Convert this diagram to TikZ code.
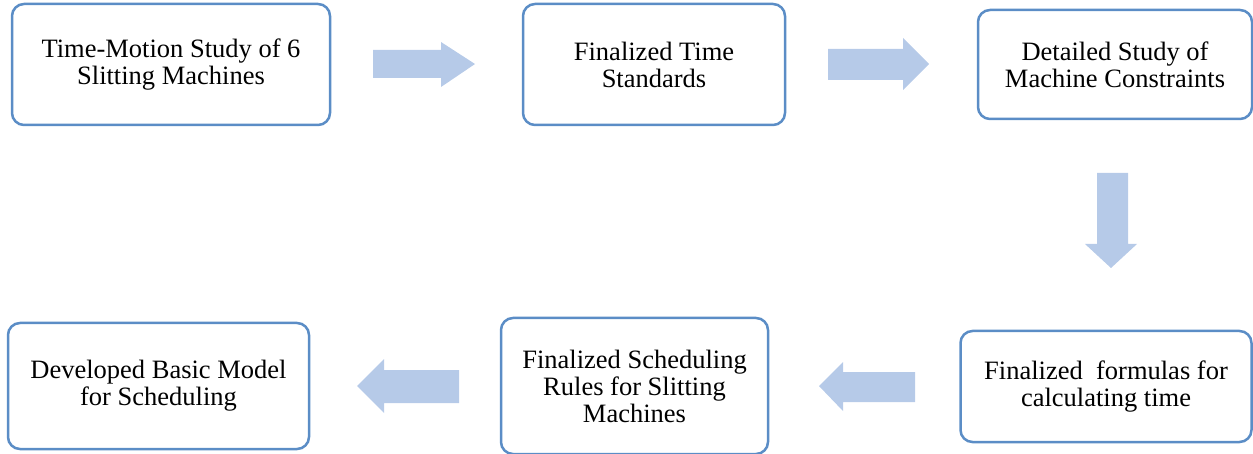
\documentclass[tikz,border=0pt]{standalone}
\usepackage{fontspec}
\setmainfont{Liberation Serif}
\usepackage{tikz}
\usetikzlibrary{positioning}
\definecolor{boxblue}{HTML}{5B8DC6}
\definecolor{arrowblue}{HTML}{B6CAE8}

\begin{document}
\begin{tikzpicture}[
  x=1pt,y=-1pt,
  every node/.style={font=\fontsize{26.5}{27}\selectfont,align=center},
  box/.style={draw=boxblue,line width=2.5pt,rounded corners=12pt,inner sep=0pt},
  arr/.style={fill=arrowblue}
]
\useasboundingbox (0,0) rectangle (1253,454);
% top row
\node[box,minimum width=318pt,minimum height=121pt] (tm) at (171,64.5) {Time-Motion Study of 6\\Slitting Machines};
\node[box,minimum width=262pt,minimum height=121pt] (ts) at (654,64.5) {Finalized Time\\Standards};
\node[box,minimum width=274pt,minimum height=109pt] (mc) at (1115,64.5) {Detailed Study of\\Machine Constraints};
% bottom row
\node[box,minimum width=291pt,minimum height=111pt] (ft) at (1106,386.5) {Finalized\ \ formulas for\\calculating time};
\node[box,minimum width=267pt,minimum height=136pt] (sr) at (634.5,386) {Finalized Scheduling\\Rules for Slitting\\Machines};
\node[box,minimum width=301pt,minimum height=126pt] (bm) at (158.5,386) {Developed Basic Model\\for Scheduling};
% block arrows
\fill[arr] (373,50) -- (441,50) -- (441,42) -- (475,64) -- (441,87) -- (441,78) -- (373,78) -- cycle;
\fill[arr] (828,49) -- (903,49) -- (903,38) -- (929,64) -- (903,90) -- (903,80) -- (828,80) -- cycle;
\fill[arr] (1097,173) -- (1128,173) -- (1128,244) -- (1137,244) -- (1111,268) -- (1085,244) -- (1097,244) -- cycle;
\fill[arr] (915,372) -- (843,372) -- (843,362) -- (819,386) -- (843,411) -- (843,402) -- (915,402) -- cycle;
\fill[arr] (459,370) -- (384,370) -- (384,359) -- (357,386) -- (384,413) -- (384,403) -- (459,403) -- cycle;
\end{tikzpicture}
\end{document}
